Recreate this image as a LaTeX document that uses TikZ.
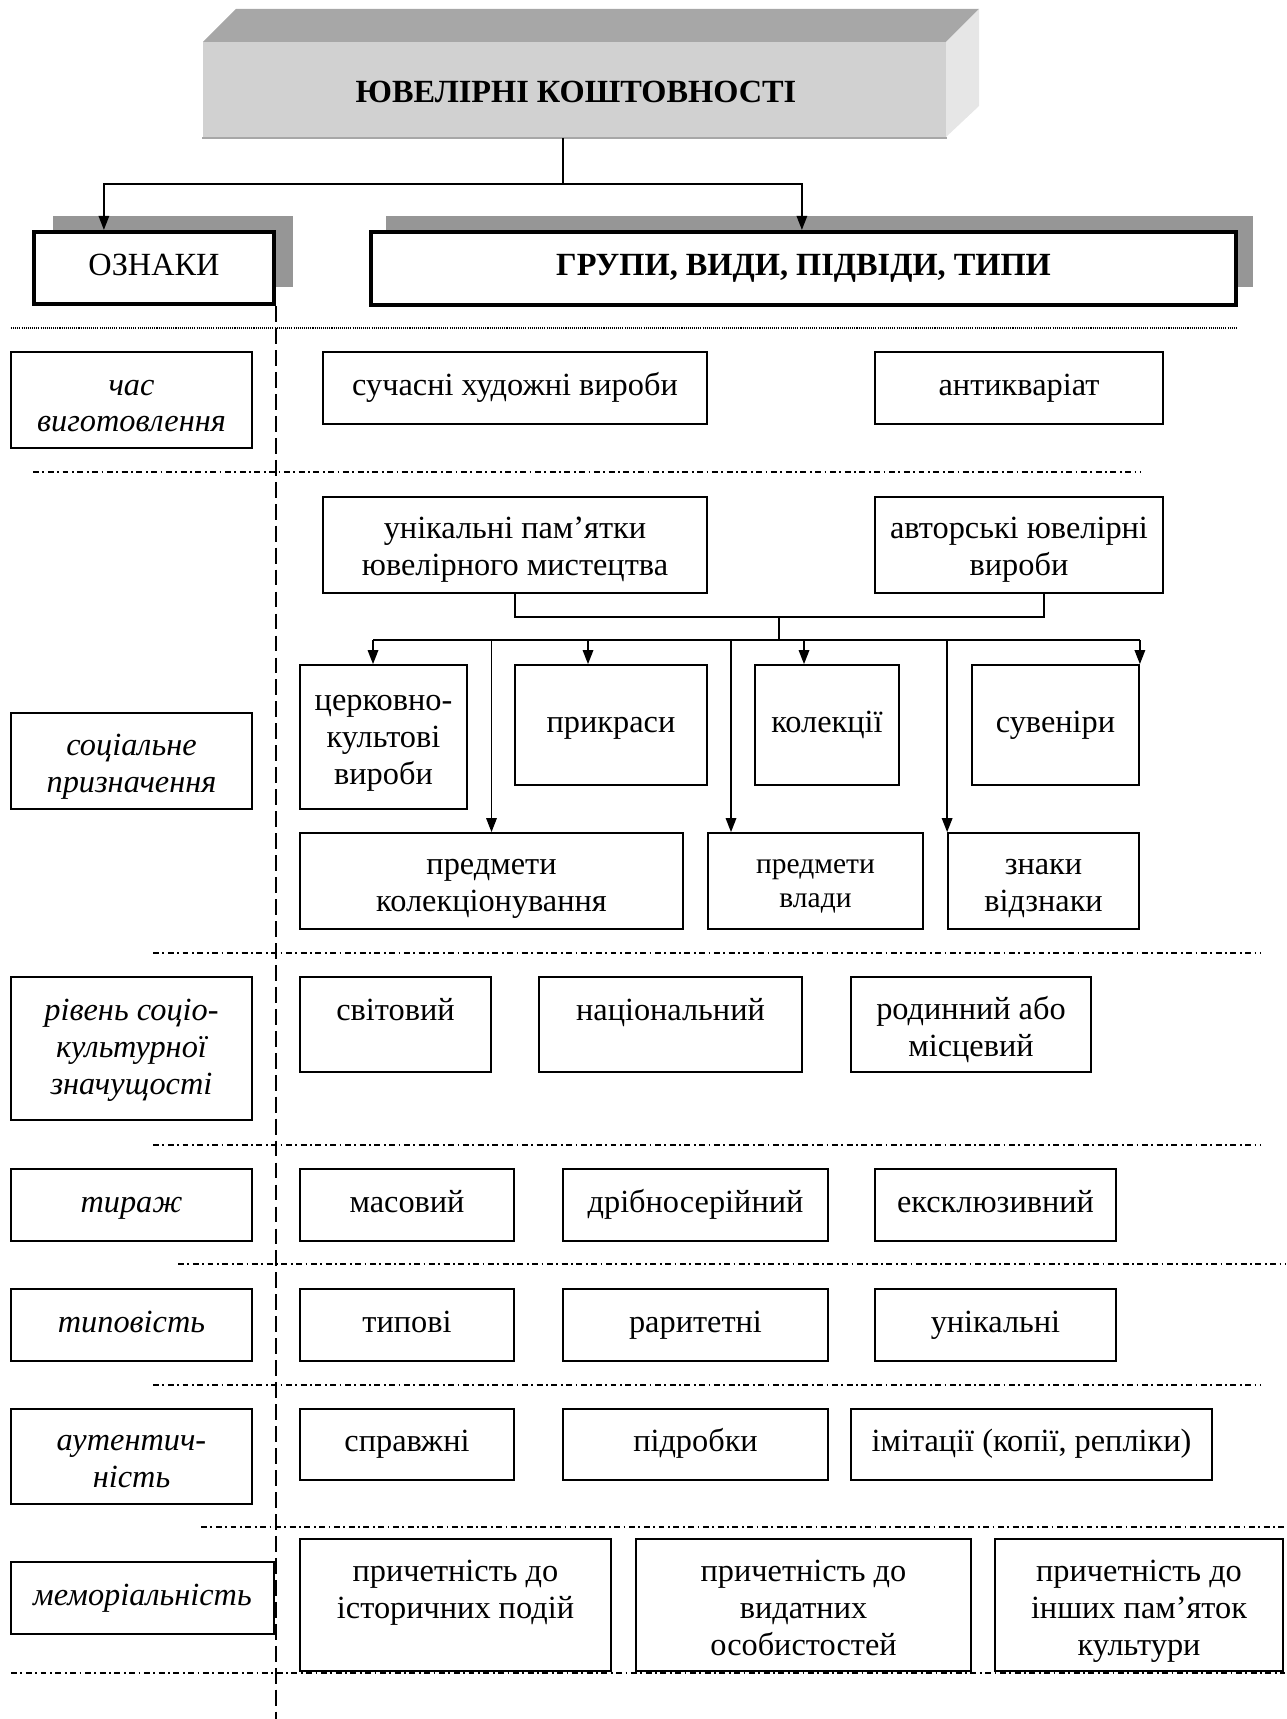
\documentclass[tikz,border=0pt]{standalone}
\usepackage{fontspec}
\setmainfont{Liberation Serif}
\usetikzlibrary{arrows.meta,calc}
\definecolor{frontgray}{HTML}{D1D1D1}
\definecolor{topgray}{HTML}{A7A7A7}
\definecolor{sidegray}{HTML}{E6E6E6}
\definecolor{shadowgray}{HTML}{969696}
\newcommand\fs{\fontsize{18.4}{21}\selectfont}
\newcommand\bxpre{}
\newcommand\bx[7][]{%
  \pgfmathsetlengthmacro\bxw{(#5-#3)*0.02cm}%
  \pgfmathsetlengthmacro\bxh{(#6-#4)*0.02cm}%
  \node[box,#1,minimum width=\bxw,minimum height=\bxh] (#2) at ({(#3+#5)/2},{(#4+#6)/2}) {\bxpre#7};}
\tikzset{
  box/.style={draw, line width=1pt, fill=white, inner sep=0pt, align=center, font=\fs,
    execute at begin node=\strut, execute at end node=\strut, /utils/exec={\def\bxpre{}}},
  sh/.code={\pgfmathsetlengthmacro\bxrh{14.7pt+2*#1}\edef\bxpre{\noexpand\rule{0pt}{\bxrh}}},
  lbl/.style={font=\fs\itshape},
  heavy/.style={line width=2.4pt},
  arr/.style={-{Triangle[length=8pt,width=6pt]}, line width=0.9pt},
  conn/.style={line width=0.9pt},
  dd/.style={line width=1.1pt, dash pattern=on 3.4pt off 2pt on 1pt off 2pt},
  dots/.style={line width=1pt, dash pattern=on 0.6pt off 0.6pt},
  vdash/.style={line width=1.1pt, dash pattern=on 9pt off 3.5pt}
}
\begin{document}
\begin{tikzpicture}[x=0.02cm,y=-0.02cm]
\useasboundingbox (0,0) rectangle (1286,1719);
% title 3D block
\fill[topgray] (203,42) -- (236,9) -- (979,9) -- (946,42) -- cycle;
\fill[sidegray] (946,42) -- (979,9) -- (979,106) -- (946,137) -- cycle;
\bx[draw=none,fill=frontgray]{front}{203}{42}{946}{137}{}
\node[font=\fs\bfseries, inner sep=0pt] (title) at (576,92) {ЮВЕЛІРНІ КОШТОВНОСТІ};
\draw[line width=1pt,color=topgray] (front.south west) -- (front.south east);
% shadows
\fill[shadowgray] (53,216) rectangle (293,287);
\fill[shadowgray] (386,216) rectangle (1253,287);
\bx[heavy]{ozn}{34}{232}{274}{304}{ОЗНАКИ}
\bx[heavy,font=\fs\bfseries]{grp}{371}{232}{1236}{305}{ГРУПИ, ВИДИ, ПІДВІДИ, ТИПИ}
\coordinate (j0) at (563,184);
\draw[conn] (j0 |- front.south) -- (j0);
\draw[arr] (j0) -| ($(ozn.north west)+(72,0)$);
\draw[arr] (j0) -| ($(grp.north west)+(433,0)$);
% separators
\draw[dots] (11,328) -- (1236,328);
\draw[dd] (33,472) -- (1140,472);
\draw[dd] (153,953) -- (1261,953);
\draw[dd] (153,1145) -- (1261,1145);
\draw[dd] (178,1264) -- (1285,1264);
\draw[dd] (153,1385) -- (1261,1385);
\draw[dd] (201,1527) -- (1285,1527);
\draw[dd] (11,1673) -- (1285,1673);
\coordinate (vb) at (275,1719);
\draw[vdash] (ozn.south east) -- (ozn.south east |- vb);
% row 1
\bx[lbl,sh=3.5pt]{l1}{11}{352}{252}{448}{час\\виготовлення}
\bx{suchasni}{323}{352}{707}{424}{сучасні художні вироби}
\bx{antyk}{875}{352}{1163}{424}{антикваріат}
% row 2
\bx[lbl,sh=3.2pt]{l2}{11}{713}{252}{809}{соціальне\\призначення}
\bx[sh=2.8pt]{unik}{323}{497}{707}{593}{унікальні пам’ятки\\ювелірного мистецтва}
\bx[sh=2.8pt]{avt}{875}{497}{1163}{593}{авторські ювелірні\\вироби}
\bx[sh=1.6pt]{cerk}{300}{665}{467}{809}{церковно-\\культові\\вироби}
\bx{prykr}{515}{665}{707}{785}{прикраси}
\bx{kolek}{755}{665}{899}{785}{колекції}
\bx{suv}{972}{665}{1139}{785}{сувеніри}
\bx[sh=2.6pt]{predk}{300}{833}{683}{929}{предмети\\колекціонування}
\bx[sh=1pt,font=\fontsize{16.8}{19.5}\selectfont]{predv}{708}{833}{923}{929}{предмети\\влади}
\bx[sh=2.6pt]{znak}{948}{833}{1139}{929}{знаки\\відзнаки}
\coordinate (j1) at (779,617);
\coordinate (avtc) at ($(avt.south)+(25,0)$);
\draw[conn] (unik.south) |- (j1) -| (avtc);
\coordinate (bus) at (779,640);
\draw[conn] (j1) -- (bus);
\coordinate (bL) at (373,640);
\coordinate (bR) at (suv.north east |- bus);
\draw[conn] (bL) -- (bR);
\draw[arr] (bL) -- (bL |- cerk.north);
\draw[arr] (predk.north |- bus) -- (predk.north);
\coordinate (b3) at (588,640);
\draw[arr] (b3) -- (b3 |- prykr.north);
\coordinate (b4) at (731,640);
\draw[arr] (b4) -- (b4 |- predv.north);
\coordinate (b5) at (804,640);
\draw[arr] (b5) -- (b5 |- kolek.north);
\draw[arr] (znak.north west |- bus) -- (znak.north west);
\draw[arr] (bR) -- (suv.north east);
% row 3
\bx[lbl,sh=1pt]{l3}{11}{977}{252}{1120}{рівень соціо-\\культурної\\значущості}
\bx[sh=4pt]{svit}{300}{977}{491}{1072}{світовий\\~}
\bx[sh=4pt]{nats}{539}{977}{802}{1072}{національний\\~}
\bx[sh=3.6pt]{rod}{851}{977}{1091}{1072}{родинний або\\місцевий}
% row 4
\bx[lbl]{l4}{11}{1169}{252}{1241}{тираж}
\bx{mas}{300}{1169}{514}{1241}{масовий}
\bx{dribn}{563}{1169}{828}{1241}{дрібносерійний}
\bx{ekskl}{875}{1169}{1116}{1241}{ексклюзивний}
% row 5
\bx[lbl]{l5}{11}{1289}{252}{1361}{типовість}
\bx{typ}{300}{1289}{514}{1361}{типові}
\bx{rar}{563}{1289}{828}{1361}{раритетні}
\bx{unk}{875}{1289}{1116}{1361}{унікальні}
% row 6
\bx[lbl,sh=3pt]{l6}{11}{1409}{252}{1504}{аутентич-\\ність}
\bx{spr}{300}{1409}{514}{1480}{справжні}
\bx{pidr}{563}{1409}{828}{1480}{підробки}
\bx{imit}{851}{1409}{1212}{1480}{імітації (копії, репліки)}
% row 7
\bx[lbl]{l7}{11}{1562}{274}{1634}{меморіальність}
\bx[sh=3.6pt]{mem1}{300}{1539}{611}{1671}{причетність до\\історичних подій\\~}
\bx[sh=3.6pt]{mem2}{636}{1539}{971}{1671}{причетність до\\видатних\\особистостей}
\bx[sh=3.6pt]{mem3}{995}{1539}{1283}{1671}{причетність до\\інших пам’яток\\культури}
\end{tikzpicture}
\end{document}
